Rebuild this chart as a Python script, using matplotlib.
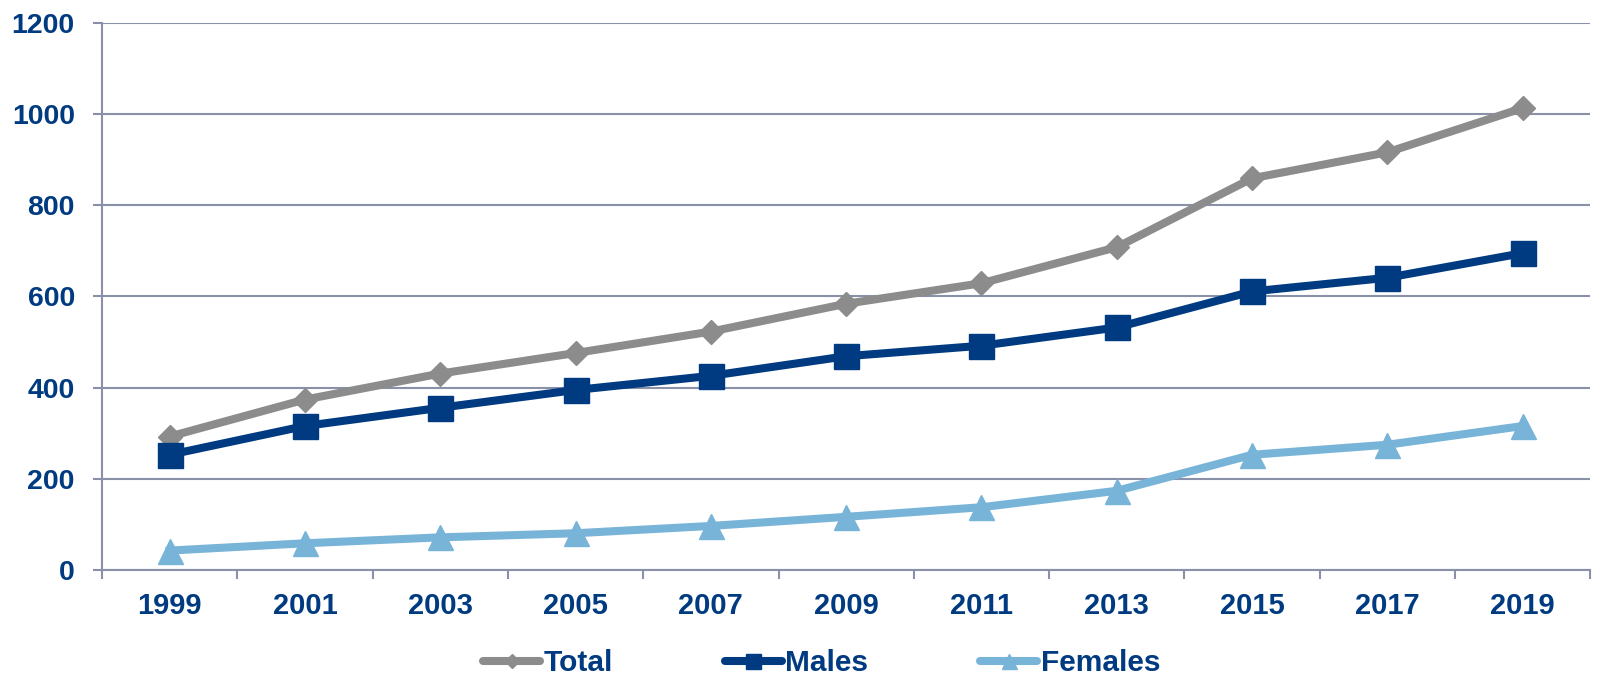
import numpy as np
import matplotlib.pyplot as plt
from matplotlib.ticker import FixedLocator

years = ["1999", "2001", "2003", "2005", "2007", "2009", "2011", "2013", "2015", "2017", "2019"]
total = [293, 374, 431, 476, 523, 584, 629, 708, 859, 916, 1013]
males = [253, 316, 356, 395, 426, 469, 492, 532, 611, 641, 695]
females = [43, 59, 72, 81, 97, 117, 138, 174, 253, 275, 316]

C_TOTAL = "#8c8c8c"
C_MALES = "#003a80"
C_FEMALES = "#78b4d8"
C_TEXT = "#003a80"
C_GRID = "#8a90a8"

plt.rcParams["font.family"] = ["Liberation Sans", "DejaVu Sans"]
plt.rcParams["font.weight"] = "bold"

fig = plt.figure(figsize=(16.13, 6.78), dpi=100)
ax = fig.add_axes([0.0632, 0.159, 0.9228, 0.8075])

x = np.arange(len(years))
ax.plot(x, total, color=C_TOTAL, lw=5.8, marker="D", ms=12.5, label="Total")
ax.plot(x, males, color=C_MALES, lw=5.8, marker="s", ms=18, label="Males")
ax.plot(x, females, color=C_FEMALES, lw=5.8, marker="^", ms=18, label="Females")

ax.set_xlim(-0.5, len(years) - 0.5)
ax.set_ylim(0, 1200)
ax.set_yticks(range(0, 1201, 200))
ax.set_xticks(x)
ax.set_xticklabels(years)
ax.xaxis.set_minor_locator(FixedLocator(np.arange(-0.5, len(years), 1)))

ax.grid(axis="y", color=C_GRID, lw=1.5)
ax.set_axisbelow(True)
for s in ["top", "right"]:
    ax.spines[s].set_visible(False)
for s in ["left", "bottom"]:
    ax.spines[s].set_color(C_GRID)
    ax.spines[s].set_linewidth(1.5)

ax.tick_params(axis="y", length=6.5, width=1.5, color=C_GRID, pad=13,
               labelsize=20.5, labelcolor=C_TEXT)
ax.tick_params(axis="x", which="major", length=0, pad=16,
               labelsize=21, labelcolor=C_TEXT)
ax.tick_params(axis="x", which="minor", length=6.5, width=1.5, color=C_GRID)

leg = fig.legend(loc="center", bbox_to_anchor=(0.5095, 0.022), ncol=3, frameon=False,
                 fontsize=21.5, handlelength=1.9, handletextpad=0.12,
                 columnspacing=3.75, markerscale=0.6)
for t in leg.get_texts():
    t.set_color(C_TEXT)
for ln in leg.get_lines():
    ln.set_solid_capstyle("round")

fig.savefig("out.png", dpi=100)
